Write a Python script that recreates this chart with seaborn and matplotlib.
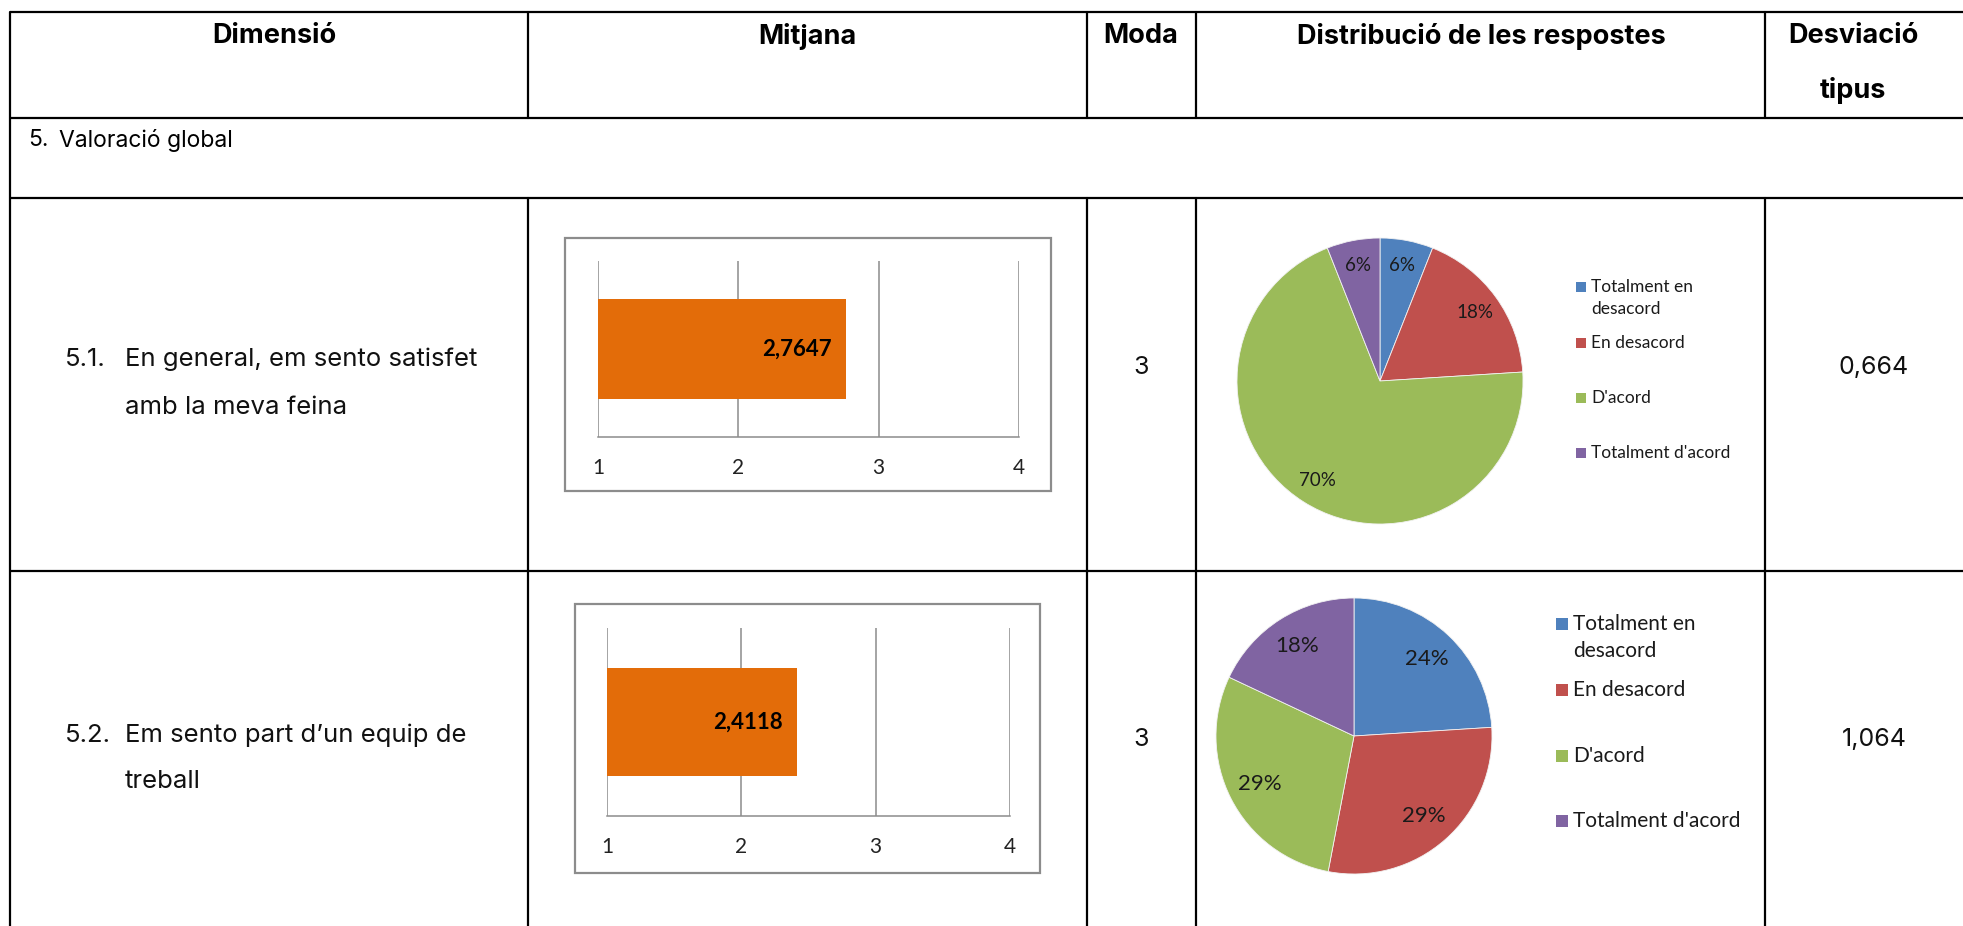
import matplotlib
matplotlib.use("Agg")
import matplotlib.pyplot as plt
from matplotlib.patches import Rectangle
import pandas as pd
import seaborn as sns

# ---- table content -------------------------------------------------------
headers = ["Dimensió", "Mitjana", "Moda", "Distribució de les respostes", "Desviació", "tipus"]
section_number = "5."
section_title = "Valoració global"
item_numbers = ["5.1.", "5.2."]
item_lines = [["En general, em sento satisfet", "amb la meva feina"],
              ["Em sento part d’un equip de", "treball"]]
means = [2.7647, 2.4118]
modes = [3, 3]
std_devs = [0.664, 1.064]
scale_ticks = [1, 2, 3, 4]
answer_levels = [["Totalment en", "desacord"], ["En desacord"], ["D'acord"], ["Totalment d'acord"]]
shares_item1 = [6, 18, 70, 6]
shares_item2 = [24, 29, 29, 18]

ORANGE = "#E36C09"
PIE_COLORS = ["#4F81BD", "#C0504D", "#9BBB59", "#8064A2"]
GRID = "#8c8c8c"
CHART_FONT = ["Lato", "DejaVu Sans"]

W, H = 1963, 926
sns.set_theme(style="white")
plt.rcParams["font.family"] = ["Inter", "DejaVu Sans"]

fig = plt.figure(figsize=(W / 100, H / 100), dpi=100)
fig.patch.set_facecolor("white")


def px_rect(x0, y0, x1, y1):
    return [x0 / W, 1 - y1 / H, (x1 - x0) / W, (y1 - y0) / H]


# background axes in pixel units for the table grid and texts
bg = fig.add_axes([0, 0, 1, 1])
bg.set_xlim(0, W)
bg.set_ylim(H, 0)
bg.axis("off")

LW = 1.6
x_left = 10
col_x = [528, 1087, 1196, 1765]
y_top, y_head, y_sec, y_row = 12, 118, 198, 571
for y in (y_top, y_head, y_sec, y_row):
    bg.plot([x_left, W], [y, y], color="black", lw=LW, solid_capstyle="butt")
bg.plot([x_left, x_left], [y_top, H], color="black", lw=LW)
for x in col_x:
    bg.plot([x, x], [y_top, y_head], color="black", lw=LW)
    bg.plot([x, x], [y_sec, H], color="black", lw=LW)

# header
head_pos = [(274, 36), (807, 36), (1141, 36), (1481, 36), (1853, 36), (1853, 90)]
for txt, (x, y) in zip(headers, head_pos):
    bg.text(x, y, txt, ha="center", va="center", fontsize=19.5, fontweight="bold", color="black")

# section row
bg.text(28, 140, section_number, ha="left", va="center", fontsize=16.5, color="black")
bg.text(59, 140, section_title, ha="left", va="center", fontsize=16.5, color="black")

# item rows
row_text_y = [(359, 407), (735, 782)]
row_mid_y = [367, 740]
for num, lines, (ya, yb), ym, mo, sd in zip(item_numbers, item_lines, row_text_y, row_mid_y, modes, std_devs):
    bg.text(65, ya, num, ha="left", va="center", fontsize=18.5, color="#111111")
    bg.text(125, ya, lines[0], ha="left", va="center", fontsize=18.5, color="#111111")
    bg.text(125, yb, lines[1], ha="left", va="center", fontsize=18.5, color="#111111")
    bg.text(1141, ym, str(mo), ha="center", va="center", fontsize=18, color="#111111")
    bg.text(1874, ym, f"{sd:.3f}".replace(".", ","), ha="center", va="center",
            fontsize=18, color="#111111")


# ---- mean bar charts -----------------------------------------------------
def draw_mean_bar(frame, area, value):
    fx0, fy0, fx1, fy1 = frame
    bg.add_patch(Rectangle((fx0, fy0), fx1 - fx0, fy1 - fy0, facecolor="white",
                           edgecolor=GRID, lw=1.6))
    ax = fig.add_axes(px_rect(*area))
    df = pd.DataFrame({"item": ["mitjana"], "valor": [value]})
    sns.barplot(data=df, x="valor", y="item", orient="h", color=ORANGE, saturation=1,
                width=0.57, linewidth=0, ax=ax)
    ax.set_xlim(1, 4)
    ax.set_ylim(0.5, -0.5)
    ax.set_xticks(scale_ticks)
    ax.set_xticklabels([str(t) for t in scale_ticks], fontsize=15, family=CHART_FONT,
                       color="#222222")
    ax.tick_params(axis="x", length=0, pad=15)
    ax.set_yticks([])
    ax.set_xlabel("")
    ax.set_ylabel("")
    ax.set_facecolor("none")
    ax.grid(axis="x", color=GRID, lw=1.1)
    ax.set_axisbelow(True)
    for side in ("top", "left", "right"):
        ax.spines[side].set_visible(False)
    ax.spines["bottom"].set_color(GRID)
    ax.spines["bottom"].set_linewidth(1.1)
    ax.annotate(f"{value:.4f}".replace(".", ","), xy=(value, 0), xytext=(-10, 0),
                textcoords="offset points", ha="right", va="center", fontsize=16,
                fontweight="bold", family=CHART_FONT, color="black")


draw_mean_bar((565, 238, 1051, 491), (598, 261, 1019, 437), means[0])
draw_mean_bar((575, 604, 1040, 873), (607, 628, 1010, 816), means[1])


# ---- answer distribution pies --------------------------------------------
def draw_pie(cx, cy, r, shares, pct_size, pctdist, legend_x, legend_y, legend_size,
             square, line_gap):
    ax = fig.add_axes(px_rect(cx - r, cy - r, cx + r, cy + r))
    ax.pie(shares, colors=PIE_COLORS, startangle=90, counterclock=False,
           autopct=lambda p: f"{p:.0f}%", pctdistance=pctdist,
           wedgeprops=dict(linewidth=0.6, edgecolor="#f2f2f2"),
           textprops=dict(fontsize=pct_size, color="#1a1a1a", family=CHART_FONT))
    ax.set_xlim(-1, 1)
    ax.set_ylim(-1, 1)
    for color, lines, y in zip(PIE_COLORS, answer_levels, legend_y):
        bg.add_patch(Rectangle((legend_x - square / 2, y - square / 2), square, square,
                               facecolor=color, edgecolor="none"))
        for k, line in enumerate(lines):
            bg.text(legend_x + square / 2 + 5, y + k * line_gap, line, ha="left", va="center",
                    fontsize=legend_size, family=CHART_FONT, color="#1a1a1a")


draw_pie(1380, 381, 143, shares_item1, 13.5, 0.82, 1581, [287, 343, 398, 453], 12.5, 10, 22)
draw_pie(1354, 736, 138, shares_item2, 16, 0.77, 1562, [624, 690, 756, 821], 15, 12, 27)

fig.savefig("out.png", dpi=100, facecolor="white")
